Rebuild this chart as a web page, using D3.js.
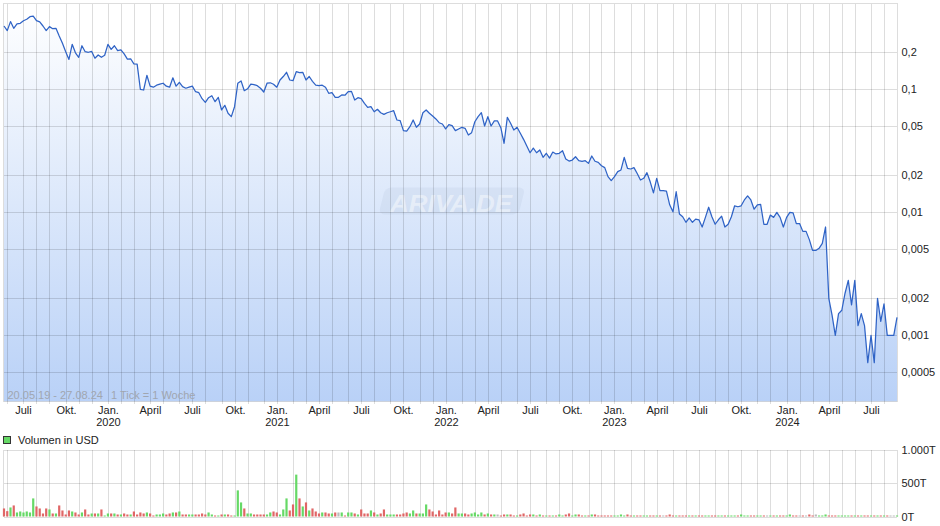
<!DOCTYPE html>
<html><head><meta charset="utf-8">
<script src="https://cdn.jsdelivr.net/npm/d3@7"></script>
<style>body{margin:0;background:#fff} text{font-family:"Liberation Sans",Arial,sans-serif}</style>
</head><body><svg id="c" width="940" height="526"></svg>
<script>
const startWeek = "2019-05-20";
const rangeLabel = "20.05.19 - 27.08.24";
const tickLabel = "1 Tick = 1 Woche";
const volumeLegend = "Volumen in USD";
const watermark = "ARIVA.DE";
const priceTicks = [0.2, 0.1, 0.05, 0.02, 0.01, 0.005, 0.002, 0.001, 0.0005];
const volumeTicks = [0, 500, 1000];
const quarterLabels = ["Jan.", "April", "Juli", "Okt."];

// weekly closing price (USD)
const price = [
0.327,0.300,0.355,0.313,0.340,0.344,0.361,0.371,0.389,0.394,
0.361,0.353,0.327,0.300,0.323,0.311,0.313,0.271,0.237,0.202,
0.175,0.232,0.198,0.182,0.226,0.202,0.200,0.203,0.179,0.190,
0.182,0.189,0.232,0.211,0.226,0.206,0.209,0.194,0.176,0.177,
0.161,0.160,0.100,0.0987,0.130,0.106,0.104,0.108,0.110,0.112,
0.106,0.104,0.124,0.106,0.114,0.105,0.102,0.104,0.106,0.0956,
0.0938,0.0839,0.0784,0.0855,0.0887,0.0793,0.0861,0.0679,0.0741,0.0638,
0.0599,0.0722,0.112,0.117,0.0974,0.101,0.110,0.109,0.107,0.102,
0.0951,0.112,0.113,0.110,0.104,0.119,0.127,0.1375,0.119,0.1175,
0.139,0.1365,0.1375,0.119,0.127,0.116,0.108,0.107,0.108,0.104,
0.0928,0.0938,0.0861,0.0861,0.0899,0.0895,0.0956,0.0962,0.0818,0.0855,
0.0839,0.0769,0.0714,0.0722,0.0657,0.0688,0.0645,0.0626,0.0645,0.0657,
0.067,0.0563,0.0556,0.0461,0.0458,0.0497,0.0563,0.0491,0.0522,0.0645,
0.0679,0.0638,0.0607,0.0574,0.0535,0.0522,0.0476,0.0516,0.0506,0.0461,
0.0476,0.0491,0.0482,0.0425,0.0444,0.0545,0.0599,0.0645,0.0503,0.0599,
0.0503,0.0553,0.0553,0.0487,0.0364,0.0592,0.0529,0.0467,0.0491,0.0439,
0.0392,0.0346,0.0305,0.0333,0.0305,0.0321,0.0280,0.0302,0.0276,0.0309,
0.0298,0.0302,0.0317,0.0271,0.0261,0.0266,0.0283,0.0263,0.0260,0.0263,
0.0250,0.0287,0.0260,0.0255,0.0239,0.0231,0.0195,0.0181,0.0195,0.0214,
0.0221,0.0280,0.0228,0.0225,0.0231,0.0207,0.0183,0.0189,0.0210,0.0177,
0.0144,0.0189,0.0150,0.0150,0.0149,0.0115,0.0101,0.0147,0.0097,0.0092,
0.0083,0.0090,0.0083,0.0088,0.0087,0.0076,0.0091,0.0110,0.0092,0.0080,
0.0087,0.0093,0.0076,0.0080,0.0092,0.0113,0.0111,0.0113,0.0126,0.0136,
0.0126,0.0106,0.0115,0.0116,0.0080,0.0080,0.0095,0.0091,0.0100,0.0091,
0.0076,0.0091,0.0100,0.0099,0.0081,0.0081,0.0070,0.0070,0.0060,0.0049,
0.0049,0.0051,0.0056,0.0076,0.0020,0.00146,0.0010,0.0015,0.0016,0.0022,
0.0028,0.00177,0.0028,0.0012,0.0015,0.0012,0.0006,0.0010,0.0006,0.0020,
0.0013,0.0018,0.0010,0.0010,0.0010,0.0014
];

// weekly volume (thousand USD)
const volume = [
120,80,135,165,60,75,60,75,60,270,
150,120,45,120,105,45,45,165,90,30,
90,75,60,30,60,105,30,45,45,45,
105,15,45,45,45,30,30,45,30,30,
75,30,60,45,60,45,15,30,30,45,
30,45,60,60,75,30,30,30,30,30,
30,45,30,60,30,15,15,30,30,30,
15,15,390,210,120,45,45,30,30,30,
30,30,60,75,60,30,105,270,90,180,
625,270,150,210,90,120,75,45,60,60,
45,45,60,60,60,15,60,60,45,30,
105,45,45,90,60,30,45,105,30,30,
30,30,30,45,60,45,90,45,45,45,
180,105,75,30,90,30,60,60,45,135,
45,45,45,30,45,60,30,60,30,45,
30,30,30,15,30,30,30,15,15,30,
45,15,30,30,15,30,15,15,15,15,
15,30,15,30,45,15,30,30,15,15,
15,30,30,15,15,15,15,15,15,15,
30,15,30,15,15,15,15,15,15,15,
15,15,15,15,15,30,15,15,15,15,
15,15,15,15,15,15,15,15,15,15,
15,15,15,15,15,15,15,30,15,15,
15,15,15,15,15,15,15,15,15,15,
15,15,30,15,15,15,15,15,30,15,
30,15,15,30,15,15,15,15,15,15,
15,15,15,15,15,15,15,15,15,15,
15,15,15,15,15,15
];

const svg = d3.select("#c");
const parse = d3.timeParse("%Y-%m-%d");
const dates = price.map((_, i) => d3.timeDay.offset(parse(startWeek), 7 * i));

const L = 3.5, R = 897, T = 3.5, B = 401.5;
const VT = 449.5, VB = 516.5;

const x = d3.scaleTime().domain([dates[0], dates[dates.length - 1]]).range([4, 897]);
const y = d3.scaleLog().domain([0.00029, 0.5]).range([B, 3.3]);
const yv = d3.scaleLinear().domain([0, 1000]).range([VB, VT]);

const de = d3.formatLocale({decimal: ",", thousands: ".", grouping: [3], currency: ["", " €"]});
const fmtP = de.format("~g");
const fmtV = de.format(",");

const gridColor = "rgba(0,0,0,0.135)";
const months = d3.timeMonth.range(new Date(2019, 5, 1), new Date(2024, 8, 1));
const mx = d => Math.round(x(d3.timeMonday.floor(d))) + 0.5;

// gradient
const defs = svg.append("defs");
const grad = defs.append("linearGradient").attr("id", "g").attr("gradientUnits", "userSpaceOnUse")
  .attr("x1", 0).attr("x2", 0).attr("y1", T).attr("y2", B);
grad.append("stop").attr("offset", 0).attr("stop-color", "#ffffff");
grad.append("stop").attr("offset", 1).attr("stop-color", "#b9d1f7");
defs.append("clipPath").attr("id", "clip").append("rect").attr("x", L).attr("y", T).attr("width", R - L).attr("height", B - T);

// area
svg.append("path").datum(price).attr("clip-path", "url(#clip)")
  .attr("fill", "url(#g)")
  .attr("d", d3.area().x((d, i) => x(dates[i])).y0(B).y1(d => y(d))(price));

// watermark
const wm = svg.append("g");
wm.append("rect").attr("x", 384).attr("y", 187.5).attr("width", 140).attr("height", 27).attr("rx", 6)
  .attr("transform", "skewX(-14) translate(48,0)").attr("fill", "rgba(120,140,175,0.09)");
wm.append("text").attr("x", 451).attr("y", 212).attr("text-anchor", "middle")
  .attr("font-size", 23).attr("font-weight", "bold").attr("font-style", "italic")
  .attr("textLength", 122).attr("lengthAdjust", "spacingAndGlyphs")
  .attr("fill", "rgba(255,255,255,0.45)").text(watermark);

// main grid
const gm = svg.append("g").attr("stroke", gridColor).attr("shape-rendering", "crispEdges");
months.forEach(m => gm.append("line").attr("x1", mx(m)).attr("x2", mx(m)).attr("y1", T).attr("y2", B + 2));
priceTicks.forEach(v => gm.append("line").attr("x1", L).attr("x2", R).attr("y1", Math.round(y(v)) + 0.5).attr("y2", Math.round(y(v)) + 0.5));
gm.append("rect").attr("x", L).attr("y", T).attr("width", R - L).attr("height", B - T).attr("fill", "none");

// info text
svg.append("text").attr("x", 7.5).attr("y", 399).attr("font-size", 11).attr("fill", "#a0a6b0").text(rangeLabel);
svg.append("text").attr("x", 111).attr("y", 399).attr("font-size", 11).attr("fill", "#a0a6b0").text(tickLabel);

// price line
svg.append("path").datum(price).attr("fill", "none").attr("stroke", "#2f63c6").attr("stroke-width", 1.25)
  .attr("stroke-linejoin", "round")
  .attr("d", d3.line().x((d, i) => x(dates[i])).y(d => y(d)));

// price axis labels
svg.append("g").selectAll("text").data(priceTicks).join("text")
  .attr("x", 901.5).attr("y", d => y(d) + 4).attr("font-size", 11).attr("fill", "#222").text(d => fmtP(d));

// month labels
months.filter(m => m.getMonth() % 3 === 0).forEach(m => {
  svg.append("text").attr("x", mx(m)).attr("y", 413.5).attr("text-anchor", "middle").attr("font-size", 11).attr("fill", "#222")
    .text(quarterLabels[m.getMonth() / 3]);
  if (m.getMonth() === 0) svg.append("text").attr("x", mx(m)).attr("y", 426).attr("text-anchor", "middle")
    .attr("font-size", 11).attr("fill", "#222").text(m.getFullYear());
});

// volume legend
svg.append("rect").attr("x", 3.5).attr("y", 436.5).attr("width", 7).attr("height", 7).attr("fill", "#66d966").attr("stroke", "#333");
svg.append("text").attr("x", 18).attr("y", 444).attr("font-size", 11).attr("fill", "#222").text(volumeLegend);

// volume grid
const gv = svg.append("g").attr("stroke", gridColor).attr("shape-rendering", "crispEdges");
months.forEach(m => gv.append("line").attr("x1", mx(m)).attr("x2", mx(m)).attr("y1", VT).attr("y2", VB));
volumeTicks.forEach(v => gv.append("line").attr("x1", L).attr("x2", R).attr("y1", Math.round(yv(v)) + 0.5).attr("y2", Math.round(yv(v)) + 0.5));
gv.append("line").attr("x1", L).attr("x2", L).attr("y1", VT).attr("y2", VB);
gv.append("line").attr("x1", R).attr("x2", R).attr("y1", VT).attr("y2", VB);

// volume bars
svg.append("g").selectAll("rect").data(volume).join("rect")
  .attr("x", (d, i) => x(dates[i]) - 1.1).attr("width", 2.2)
  .attr("y", d => yv(d)).attr("height", d => yv(0) - yv(d))
  .attr("fill", (d, i) => {
    if (i === 0) return "#e06666";
    const c = price[i] - price[i - 1];
    return c > 0 ? "#66d966" : c < 0 ? "#e06666" : "#bbbbbb";
  });

// volume axis labels
svg.append("g").selectAll("text").data(volumeTicks).join("text")
  .attr("x", 901.5).attr("y", d => yv(d) + 4).attr("font-size", 11).attr("fill", "#222").text(d => fmtV(d) + "T");
</script></body></html>
